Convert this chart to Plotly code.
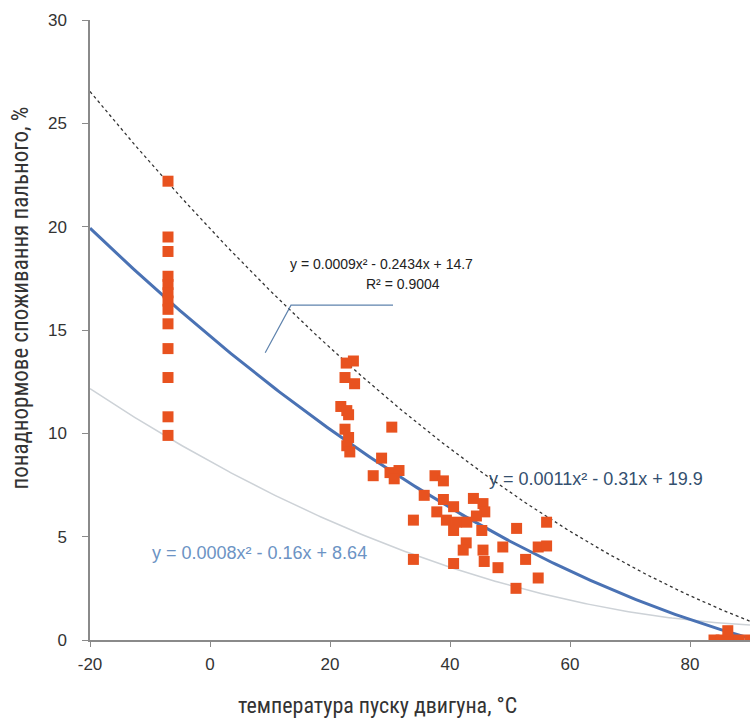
import numpy as np
import plotly.graph_objects as go

# Observed points: engine start temperature (°C) vs excess fuel consumption (%)
temp_c = [-7]*13 + [
    23.9, 22.7, 22.5, 24.1, 21.8, 22.8, 23.1, 22.5, 23.1, 22.8, 23.3,
    30.3, 28.6, 27.2, 30.0, 31.5, 30.7, 37.5, 38.9, 35.7, 38.9, 40.6,
    43.9, 45.5, 45.8, 37.8, 39.4, 41.1, 42.8, 44.4, 40.6, 45.3, 33.9,
    51.1, 56.1, 42.7, 42.2, 45.5, 48.8, 54.7, 56.1, 33.9, 40.6, 45.7,
    48.0, 52.6, 54.7, 51.0,
    84.0, 85.2, 86.5, 86.3, 88.2, 90.0]
excess_pct = [22.2, 19.5, 18.8, 17.6, 17.2, 16.8, 16.4, 16.0, 15.3, 14.1, 12.7, 10.8, 9.9] + [
    13.5, 13.4, 12.7, 12.4, 11.3, 11.1, 10.9, 10.2, 9.8, 9.4, 9.1,
    10.3, 8.8, 7.95, 8.1, 8.2, 7.8, 7.95, 7.7, 7.0, 6.8, 6.45,
    6.85, 6.6, 6.2, 6.2, 5.8, 5.7, 5.7, 6.0, 5.3, 5.3, 5.8,
    5.4, 5.7, 4.7, 4.35, 4.35, 4.5, 4.5, 4.55, 3.9, 3.7, 3.8,
    3.5, 3.9, 3.0, 2.5,
    0.0, 0.0, 0.0, 0.45, 0.0, 0.0]

# Trend-line coefficients as printed on the chart (a, b, c for a*x^2 + b*x + c)
coef_mean = [0.0009, -0.2434, 14.7]
coef_upper = [0.0011, -0.31, 19.9]
coef_lower = [0.0008, -0.16, 8.64]
label_mean = "y = 0.0009x² - 0.2434x + 14.7"
label_r2 = "R² = 0.9004"
label_upper = "y = 0.0011x² - 0.31x + 19.9"
label_lower = "y = 0.0008x² - 0.16x + 8.64"
x_title = "температура пуску двигуна, °C"
y_title = "понаднормове споживання пального, %"

x_ticks = [-20, 0, 20, 40, 60, 80]
x_tick_labels = ["-20", "0", "20", "40", "60", "80"]
y_ticks = [0, 5, 10, 15, 20, 25, 30]

xs = np.linspace(-20, 90, 221)
def quad(c):
    return c[0]*xs**2 + c[1]*xs + c[2]

fig = go.Figure()
fig.add_trace(go.Scatter(x=xs, y=quad(coef_lower), mode="lines",
                         line=dict(color="#cdd2d7", width=1.5), hoverinfo="skip"))
fig.add_trace(go.Scatter(x=xs, y=quad(coef_upper), mode="lines",
                         line=dict(color="#333333", width=1.3, dash="dot"), hoverinfo="skip"))
fig.add_trace(go.Scatter(x=xs, y=quad(coef_mean), mode="lines",
                         line=dict(color="#4a72b4", width=3), hoverinfo="skip"))
fig.add_trace(go.Scatter(x=temp_c, y=excess_pct, mode="markers",
                         marker=dict(symbol="square", size=11, color="#e8521f",
                                     line=dict(width=0)), cliponaxis=True))

fig.add_shape(type="path", path="M 9.2 13.9 L 13.5 16.2 L 30.5 16.2",
              xref="x", yref="y", line=dict(color="#5f83ad", width=1.2))

fam = "Liberation Sans, Arial, sans-serif"
fig.add_annotation(x=28.5, y=18.2, text=label_mean, showarrow=False,
                   font=dict(family=fam, size=14, color="#222222"))
fig.add_annotation(x=32.2, y=17.25, text=label_r2, showarrow=False,
                   font=dict(family=fam, size=14, color="#222222"))
fig.add_annotation(x=82.5, y=7.8, text=label_upper, showarrow=False, xanchor="right",
                   font=dict(family=fam, size=18, color="#34506f"))
fig.add_annotation(x=-10.0, y=4.2, text=label_lower, showarrow=False, xanchor="left",
                   font=dict(family=fam, size=18, color="#6c93c4"))

narrow = "Liberation Sans Narrow, Roboto Condensed, Arial Narrow, Liberation Sans, sans-serif"
fig.add_annotation(xref="paper", yref="paper", x=-0.105, y=0.552, text=y_title, textangle=-90,
                   xanchor="center", yanchor="middle",
                   showarrow=False, font=dict(family=narrow, size=23, color="#333333"))
fig.add_annotation(xref="paper", yref="paper", x=0.436, y=-0.105, text=x_title,
                   xanchor="center", yanchor="middle",
                   showarrow=False, font=dict(family=narrow, size=22, color="#333333"))

tickfont = dict(family=fam, size=17, color="#333333")
fig.update_layout(
    width=753, height=720,
    margin=dict(l=90, r=3, t=20, b=80, autoexpand=False),
    plot_bgcolor="white", paper_bgcolor="white",
    showlegend=False,
    xaxis=dict(range=[-20, 90], tickvals=x_ticks, ticktext=x_tick_labels,
               showgrid=False, zeroline=False,
               showline=True, linecolor="#8a8a8a", linewidth=1.5, automargin=False,
               ticks="outside", ticklen=5, tickcolor="#8a8a8a", ticklabelstandoff=3,
               tickfont=tickfont),
    yaxis=dict(range=[0, 30], tickvals=y_ticks, showgrid=False, zeroline=False,
               showline=True, linecolor="#8a8a8a", linewidth=1.5, automargin=False,
               ticks="outside", ticklen=6, tickcolor="#8a8a8a", ticklabelstandoff=12,
               tickfont=tickfont),
)
fig.write_html("out.html", post_script="document.body.style.margin='0';",
               config={"displayModeBar": False})
